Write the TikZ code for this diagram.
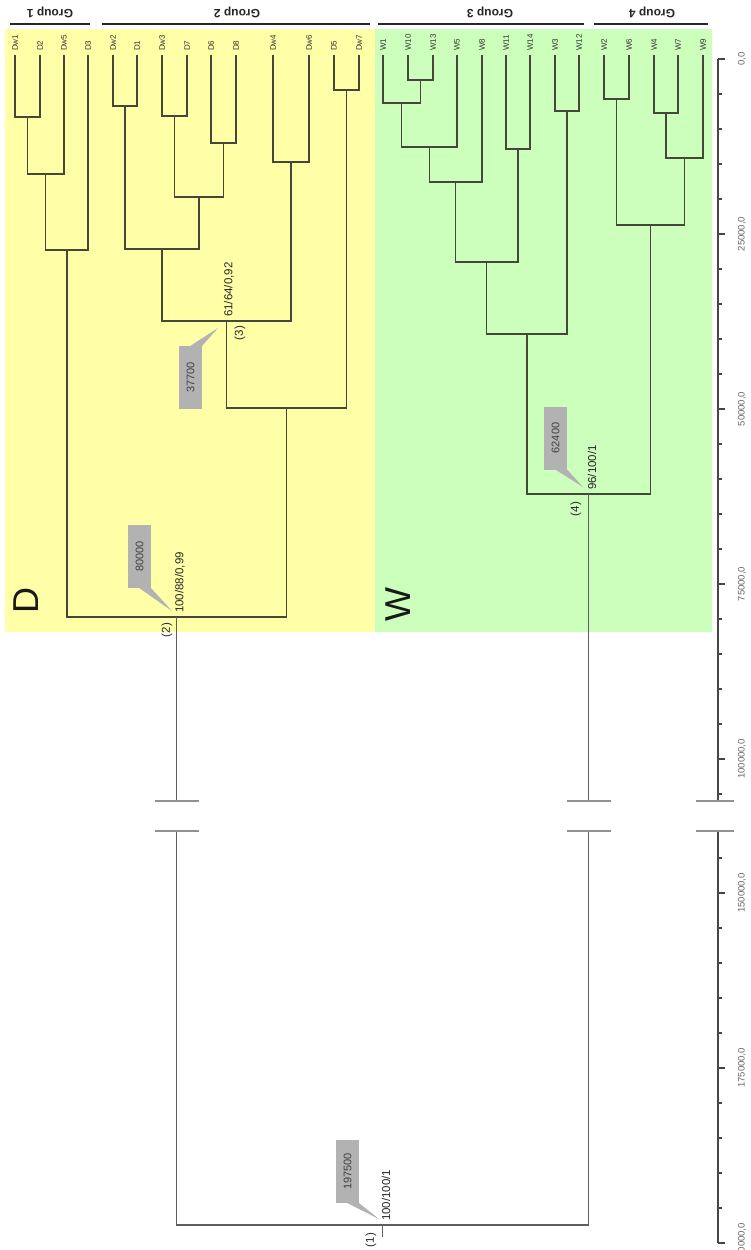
\documentclass[tikz,border=0pt]{standalone}
\usepackage{fontspec}
\setmainfont{Liberation Sans}
\definecolor{dzone}{RGB}{255,255,168}
\definecolor{wzone}{RGB}{205,255,188}
\definecolor{branchc}{RGB}{70,70,58}
\definecolor{trunkc}{RGB}{95,95,95}
\definecolor{breakc}{RGB}{145,145,145}
\definecolor{boxc}{RGB}{178,178,178}
\definecolor{axisc}{RGB}{70,70,70}

\begin{document}
\begin{tikzpicture}
  [x=1pt,y=-1pt,
   leaf/.style={rotate=90,anchor=west,inner sep=0pt,text=black!80,font=\fontsize{8}{8}\selectfont},
   branch/.style={draw=branchc,line width=1.3pt},
   trunk/.style={draw=trunkc,line width=1.3pt},
   support/.style={rotate=90,anchor=west,inner sep=1pt,text=black!85,font=\fontsize{11.5}{11.5}\selectfont},
   clade no/.style={rotate=90,inner sep=0pt,text=black!85,font=\fontsize{11.5}{11.5}\selectfont},
   age/.style={rotate=90,fill=boxc,minimum width=63pt,minimum height=23pt,inner sep=0pt,text=black!75,font=\fontsize{11}{11}\selectfont},
   group/.style={rotate=180,text=black!85,font=\bfseries\fontsize{12}{12}\selectfont},
   gbar/.style={line width=2.5pt,black!85},
   gap/.style={breakc,line width=1.3pt},
   tick/.style={axisc,line width=1.2pt},
   tick label/.style={rotate=90,text=black!60,font=\fontsize{9.5}{9.5}\selectfont},
   zone/.style={rotate=90,text=black!90,font=\fontsize{36}{36}\selectfont}]
  \useasboundingbox (0,0) rectangle (750,1250);
  \fill[dzone] (5,29) rectangle (375,632);
  \fill[wzone] (375,29) rectangle (712,632);

  \draw[gbar] (10,24) -- (90,24);
  \draw[gbar] (102,24) -- (370,24);
  \draw[gbar] (378,24) -- (584,24);
  \draw[gbar] (594,24) -- (708,24);
  \node[group] (g1) at (50,12) {Group 1};
  \node[group] (g2) at (237,12) {Group 2};
  \node[group] (g3) at (490,12) {Group 3};
  \node[group] (g4) at (652,12) {Group 4};

  \foreach \n/\x in {Dw1/15,D2/40,Dw5/64,D3/88,Dw2/113,D1/137,Dw3/162,D7/187,D6/211,D8/236,Dw4/273,Dw6/309,D5/334,Dw7/359,
                     W1/383,W10/408,W13/433,W5/457,W8/482,W11/506,W14/530,W3/555,W12/579,W2/604,W6/629,W4/654,W7/678,W9/703}
  {
    \coordinate (\n) at (\x,55);
    \node[leaf] (l\n) at (\x,51) {\n};
  }

  \coordinate (j1) at (27.5,117);
  \coordinate (j2) at (45.8,174);
  \coordinate (j3) at (66.9,250);
  \coordinate (j4) at (125,106);
  \coordinate (j5) at (174.5,116);
  \coordinate (j6) at (223.5,143);
  \coordinate (j7) at (199,197);
  \coordinate (j8) at (162,249);
  \coordinate (j9) at (291,162);
  \coordinate (n3) at (226.5,321);
  \coordinate (j10) at (346.5,90);
  \coordinate (j11) at (286.8,408);
  \coordinate (n2) at (176.8,617);
  \draw[branch] (Dw1) |- (j1) -| (D2);
  \draw[branch] (j1) |- (j2) -| (Dw5);
  \draw[branch] (j2) |- (j3) -| (D3);
  \draw[branch] (Dw2) |- (j4) -| (D1);
  \draw[branch] (Dw3) |- (j5) -| (D7);
  \draw[branch] (D6) |- (j6) -| (D8);
  \draw[branch] (j5) |- (j7) -| (j6);
  \draw[branch] (j4) |- (j8) -| (j7);
  \draw[branch] (Dw4) |- (j9) -| (Dw6);
  \draw[branch] (j8) |- (n3) -| (j9);
  \draw[branch] (D5) |- (j10) -| (Dw7);
  \draw[branch] (n3) |- (j11) -| (j10);
  \draw[branch] (j3) |- (n2) -| (j11);

  \coordinate (k1) at (420.5,80);
  \coordinate (k2) at (401.8,103);
  \coordinate (k3) at (429.4,147);
  \coordinate (k4) at (455.7,182);
  \coordinate (k5) at (518,149);
  \coordinate (k6) at (486.8,262);
  \coordinate (k7) at (567,111);
  \coordinate (k8) at (527,334);
  \coordinate (k9) at (616.5,99);
  \coordinate (k10) at (666,113);
  \coordinate (k11) at (684.5,158);
  \coordinate (k12) at (650.5,225);
  \coordinate (n4) at (588.8,494);
  \draw[branch] (W10) |- (k1) -| (W13);
  \draw[branch] (W1) |- (k2) -| (k1);
  \draw[branch] (k2) |- (k3) -| (W5);
  \draw[branch] (k3) |- (k4) -| (W8);
  \draw[branch] (W11) |- (k5) -| (W14);
  \draw[branch] (k4) |- (k6) -| (k5);
  \draw[branch] (W3) |- (k7) -| (W12);
  \draw[branch] (k6) |- (k8) -| (k7);
  \draw[branch] (W2) |- (k9) -| (W6);
  \draw[branch] (W4) |- (k10) -| (W7);
  \draw[branch] (k10) |- (k11) -| (W9);
  \draw[branch] (k9) |- (k12) -| (k11);
  \draw[branch] (k8) |- (n4) -| (k12);

  \coordinate (cut1) at (0,801);
  \coordinate (cut2) at (0,831);
  \coordinate (n1) at (382.8,1225);
  \draw[trunk] (n2) -- (n2 |- cut1);
  \draw[trunk] (n4) -- (n4 |- cut1);
  \draw[trunk] (n2 |- cut2) |- (n1) -| (n4 |- cut2);
  \draw[trunk] (n1) -- ++(0,12);
  \foreach \c in {n2,n4}
    \foreach \k in {cut1,cut2}
      \draw[gap] (\c |- \k) ++(-22,0) -- ++(44,0);

  \draw[tick] (718,59) -- (718,801) (718,831) -- (718,1243);
  \foreach \v in {0,5,...,105}
    \draw[tick] (718,59+7*\v) -- ++(4,0);
  \foreach \v in {145,150,...,200}
    \draw[tick] (718,893+7*\v-1050) -- ++(4,0);
  \foreach \v/\t in {0/0,25/25000,50/50000,75/75000,100/100000}
  {
    \draw[tick] (718,59+7*\v) -- ++(7,0);
    \node[tick label] (a\v) at (742,59+7*\v) {\t,0};
  }
  \foreach \v in {150,175,200}
  {
    \draw[tick] (718,893+7*\v-1050) -- ++(7,0);
    \node[tick label] (a\v) at (742,893+7*\v-1050) {\v000,0};
  }
  \draw[gap] (696,801) -- (734,801) (696,831) -- (734,831);

  \node[age] (c1) at (347.5,1171.5) {197500};
  \node[age] (c2) at (139.5,556.5) {80000};
  \node[age] (c3) at (190.5,377.5) {37700};
  \node[age] (c4) at (555.5,438) {62400};
  \coordinate (p1) at (379,1219);
  \coordinate (p2) at (172,611);
  \coordinate (p3) at (218,328);
  \coordinate (p4) at (583,487);
  \fill[boxc] (c1.west) -- (c1.south west) -- (p1) -- cycle;
  \fill[boxc] (c2.west) -- (c2.south west) -- (p2) -- cycle;
  \fill[boxc] (c3.east) -- (c3.south east) -- (p3) -- cycle;
  \fill[boxc] (c4.west) -- (c4.south west) -- (p4) -- cycle;

  \node[support] (s1) at (386,1222) {100/100/1};
  \node[support] (s2) at (180,614) {100/88/0,99};
  \node[support] (s3) at (229,318) {61/64/0,92};
  \node[support] (s4) at (592,491) {96/100/1};
  \node[clade no] (r1) at (371,1240) {(1)};
  \node[clade no] (r2) at (167,630) {(2)};
  \node[clade no] (r3) at (240,333) {(3)};
  \node[clade no] (r4) at (576,509) {(4)};

  \node[zone] (zd) at (26,600) {D};
  \node[zone] (zw) at (398,605) {W};
\end{tikzpicture}
\end{document}
